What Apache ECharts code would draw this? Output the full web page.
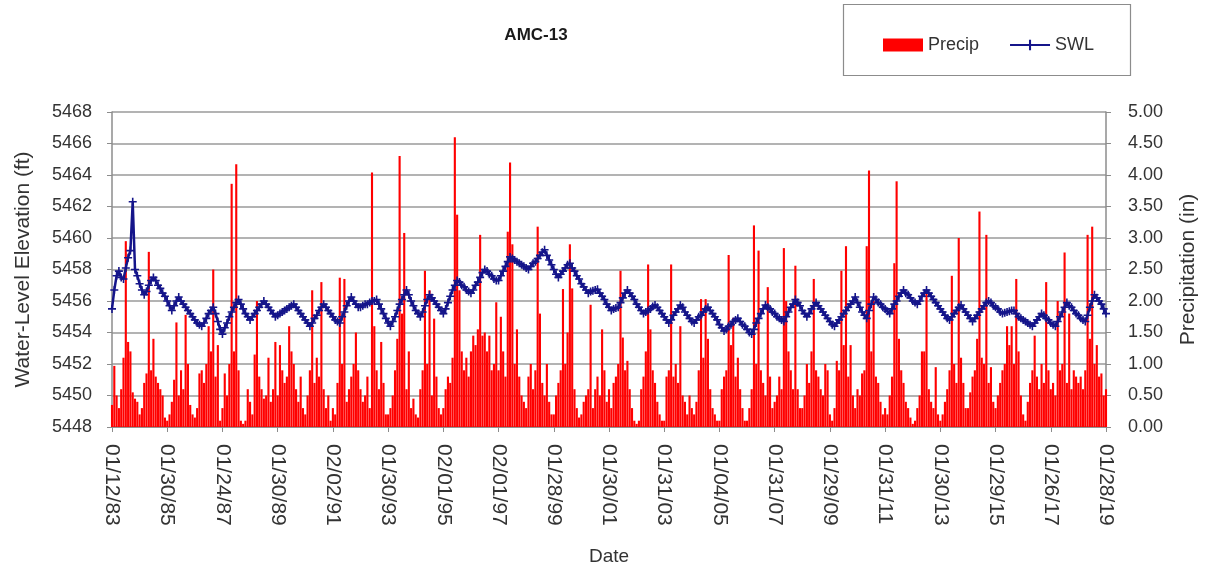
<!DOCTYPE html>
<html>
<head>
<meta charset="utf-8">
<script src="https://cdn.jsdelivr.net/npm/echarts@6/dist/echarts.min.js"></script>
<style>
html,body{margin:0;padding:0;background:#fff;}
#chart{width:1216px;height:571px;}
</style>
</head>
<body>
<div id="chart"></div>
<script>
// Tick labels shown on the date axis (every 24th monthly sample)
const tickLabels = ["01/12/83","01/30/85","01/24/87","01/30/89","02/02/91","01/30/93","02/01/95","02/01/97","01/28/99","01/30/01","01/31/03","01/04/05","01/31/07","01/29/09","01/31/11","01/30/13","01/29/15","01/26/17","01/28/19"];

// Monthly precipitation (in), one row per year 1983..2018, then Jan 2019
const precip = [
  0.35,0.97,0.5,0.3,0.6,1.1,2.95,1.35,1.2,0.55,0.45,0.4,
  0.2,0.3,0.7,0.85,2.78,0.9,1.4,0.8,0.7,0.6,0.5,0.15,
  0.1,0.2,0.4,0.75,1.66,0.5,0.9,0.6,1.78,1.0,0.35,0.2,
  0.15,0.3,0.85,0.9,0.7,1.0,1.6,1.2,2.5,0.8,1.3,0.1,
  0.3,0.85,0.5,1.0,3.86,1.2,4.17,0.9,0.1,0.05,0.1,0.6,
  0.4,0.2,1.15,2.0,0.8,0.6,0.45,0.5,1.1,0.4,0.6,1.35,
  0.5,1.3,0.9,0.7,0.8,1.6,1.2,1.0,0.6,0.4,0.8,0.3,
  0.2,0.5,0.9,2.17,0.7,1.1,0.8,2.3,0.6,0.3,0.5,0.1,
  0.3,0.2,0.7,2.37,1.0,2.35,0.4,0.6,0.8,1.0,1.5,0.9,
  0.6,0.4,0.5,0.8,0.3,4.04,1.6,0.9,0.6,1.35,0.7,0.2,
  0.2,0.3,0.5,0.9,1.4,4.3,1.8,3.08,0.6,1.2,0.3,0.45,
  0.2,0.15,0.6,0.9,2.48,1.0,2.17,0.5,1.72,0.8,0.3,0.2,
  0.3,0.6,0.8,0.7,1.1,4.6,3.37,2.17,1.2,0.9,1.1,0.8,
  1.2,1.45,1.3,1.55,3.05,1.45,1.5,1.2,1.45,0.9,1.0,1.98,
  0.9,1.75,1.2,0.8,3.1,4.2,2.9,1.0,1.55,0.8,0.5,0.4,
  0.3,0.8,1.0,0.6,0.9,3.18,1.8,0.7,0.5,1.0,0.4,0.2,
  0.2,0.5,0.7,0.9,2.19,1.0,1.5,2.9,2.2,0.6,0.3,0.15,
  0.2,0.4,0.5,0.6,1.94,0.3,0.6,0.8,0.5,1.55,0.9,0.4,
  0.6,0.3,0.7,0.8,1.0,2.48,1.42,0.9,1.05,0.6,0.3,0.1,
  0.05,0.1,0.6,0.8,1.2,2.58,1.55,0.9,0.7,0.4,0.2,0.1,
  0.1,0.8,0.9,2.58,0.8,1.0,0.7,1.6,0.5,0.4,0.2,0.5,
  0.3,0.2,0.4,0.9,2.03,1.1,2.03,1.4,0.6,0.3,0.2,0.1,
  0.1,0.6,0.8,0.9,2.73,1.3,1.73,0.8,1.1,0.6,0.3,0.1,
  0.1,0.3,0.6,3.2,1.0,2.8,0.9,0.7,0.5,2.22,0.8,0.3,
  0.4,0.5,0.8,0.6,2.84,2.0,1.2,0.9,0.6,2.56,0.6,0.3,
  0.3,0.5,1.0,0.7,1.2,2.35,0.9,0.8,0.6,0.5,1.0,0.9,
  0.2,0.1,0.3,1.05,0.9,2.48,1.3,2.87,0.8,1.3,0.5,0.3,
  0.6,0.5,0.85,0.9,2.87,4.07,1.2,2.0,0.8,0.7,0.4,0.2,
  0.3,0.2,0.5,0.8,2.6,3.9,1.4,0.9,0.7,0.4,0.3,0.15,
  0.05,0.1,0.3,0.5,1.2,1.2,2.17,0.6,0.4,0.3,0.95,0.2,
  0.1,0.2,0.4,0.6,0.9,2.4,1.0,0.7,3.0,1.1,0.7,0.3,
  0.3,0.55,0.8,0.9,1.4,3.42,1.1,1.0,3.05,0.7,0.95,0.4,
  0.3,0.5,0.7,0.9,1.0,1.6,1.3,1.6,1.0,2.35,1.2,0.5,
  0.2,0.1,0.4,0.7,0.9,1.45,0.8,0.6,1.0,0.7,2.3,0.9,
  0.6,0.7,0.5,2.0,0.9,1.0,2.77,0.7,1.8,0.6,0.9,0.8,
  0.7,0.8,0.6,0.9,3.05,1.4,3.18,1.0,1.3,0.8,0.85,0.5,
  0.6
];

// Monthly static water level (ft), one row per year 1983..2018, then Jan 2019
const swl = [
  5455.5,5456.7,5457.6,5457.9,5457.5,5457.4,5458.1,5458.75,5459.2,5462.3,5458.0,5457.6,
  5457.1,5456.7,5456.4,5456.6,5457.0,5457.3,5457.5,5457.3,5457.0,5456.8,5456.5,5456.3,
  5456.0,5455.7,5455.4,5455.7,5456.0,5456.25,5456.0,5455.8,5455.6,5455.4,5455.2,5455.0,
  5454.8,5454.6,5454.5,5454.4,5454.6,5454.9,5455.2,5455.4,5455.6,5455.2,5454.7,5454.2,
  5453.9,5454.3,5454.6,5455.0,5455.3,5455.6,5455.9,5456.1,5455.8,5455.5,5455.2,5455.0,
  5454.8,5455.0,5455.2,5455.4,5455.6,5455.8,5456.0,5455.8,5455.6,5455.4,5455.2,5455.0,
  5455.1,5455.2,5455.3,5455.4,5455.5,5455.6,5455.7,5455.8,5455.6,5455.4,5455.2,5455.0,
  5454.8,5454.6,5454.4,5454.6,5454.9,5455.1,5455.4,5455.6,5455.8,5455.6,5455.4,5455.2,
  5455.0,5454.8,5454.7,5454.6,5455.0,5455.3,5455.7,5456.0,5456.25,5456.0,5455.8,5455.6,
  5455.6,5455.7,5455.8,5455.8,5455.9,5456.0,5456.0,5456.1,5455.8,5455.5,5455.2,5454.9,
  5454.6,5454.4,5454.7,5455.0,5455.4,5455.8,5456.1,5456.4,5456.7,5456.4,5456.0,5455.7,
  5455.4,5455.2,5455.0,5455.3,5455.7,5456.1,5456.4,5456.2,5456.0,5455.8,5455.6,5455.4,
  5455.2,5455.5,5455.9,5456.3,5456.7,5457.0,5457.3,5457.2,5457.0,5456.9,5456.7,5456.6,
  5456.5,5456.7,5457.0,5457.2,5457.5,5457.8,5458.0,5457.9,5457.7,5457.6,5457.4,5457.3,
  5457.3,5457.6,5457.9,5458.2,5458.5,5458.8,5458.7,5458.6,5458.5,5458.4,5458.3,5458.2,
  5458.1,5458.0,5458.2,5458.4,5458.5,5458.7,5458.9,5459.1,5459.25,5458.9,5458.6,5458.3,
  5458.0,5457.7,5457.5,5457.7,5457.9,5458.1,5458.3,5458.4,5458.1,5457.9,5457.6,5457.4,
  5457.1,5456.9,5456.7,5456.5,5456.6,5456.65,5456.7,5456.75,5456.5,5456.3,5456.1,5455.8,
  5455.6,5455.4,5455.5,5455.55,5455.6,5455.9,5456.2,5456.5,5456.7,5456.5,5456.3,5456.1,
  5455.8,5455.6,5455.4,5455.2,5455.3,5455.4,5455.5,5455.65,5455.75,5455.6,5455.4,5455.2,
  5455.0,5454.8,5454.6,5454.8,5455.1,5455.3,5455.5,5455.75,5455.6,5455.3,5455.1,5454.9,
  5454.7,5454.6,5454.8,5455.0,5455.1,5455.3,5455.5,5455.6,5455.4,5455.2,5455.0,5454.8,
  5454.5,5454.3,5454.1,5454.2,5454.4,5454.5,5454.7,5454.8,5454.9,5454.7,5454.5,5454.4,
  5454.2,5454.0,5453.9,5454.2,5454.6,5454.9,5455.2,5455.5,5455.75,5455.6,5455.5,5455.3,
  5455.2,5455.0,5454.9,5454.8,5454.7,5455.0,5455.3,5455.6,5455.8,5456.1,5455.9,5455.7,
  5455.4,5455.2,5455.0,5455.2,5455.5,5455.7,5455.9,5455.7,5455.5,5455.3,5455.1,5454.9,
  5454.7,5454.5,5454.4,5454.6,5454.8,5455.0,5455.2,5455.4,5455.6,5455.8,5456.0,5456.25,
  5455.9,5455.6,5455.3,5455.1,5454.9,5455.4,5455.8,5456.25,5456.1,5455.9,5455.8,5455.6,
  5455.5,5455.35,5455.2,5455.5,5455.8,5456.0,5456.3,5456.5,5456.7,5456.5,5456.4,5456.2,
  5456.0,5455.9,5455.8,5456.0,5456.3,5456.5,5456.7,5456.5,5456.3,5456.1,5455.9,5455.7,
  5455.5,5455.3,5455.1,5454.9,5454.8,5455.0,5455.2,5455.4,5455.6,5455.75,5455.5,5455.3,
  5455.1,5454.9,5454.7,5454.9,5455.1,5455.3,5455.5,5455.7,5455.9,5456.0,5455.9,5455.7,
  5455.6,5455.5,5455.3,5455.2,5455.25,5455.3,5455.35,5455.4,5455.4,5455.2,5455.0,5454.9,
  5454.8,5454.7,5454.6,5454.5,5454.4,5454.6,5454.8,5455.0,5455.2,5455.1,5454.9,5454.8,
  5454.6,5454.5,5454.4,5454.7,5455.0,5455.3,5455.6,5455.9,5455.7,5455.6,5455.4,5455.2,
  5455.1,5454.9,5454.8,5454.7,5455.1,5455.6,5456.0,5456.4,5456.2,5456.0,5455.8,5455.5,
  5455.2
];

// Category labels: the shown tick dates, other monthly samples labelled mid-month
function pad(n){ return (n < 10 ? '0' : '') + n; }
const dates = [];
for (let i = 0; i < precip.length; i++) {
  if (i % 24 === 0) dates.push(tickLabels[i / 24]);
  else dates.push(pad(i % 12 + 1) + '/15/' + pad((1983 + Math.floor(i / 12)) % 100));
}

const FONT = 'Liberation Sans, Arial, sans-serif';
const plus = 'path://M4,0H6V4H10V6H6V10H4V6H0V4H4Z';
const chart = echarts.init(document.getElementById('chart'), null, {renderer: 'canvas'});
chart.setOption({
  backgroundColor: '#ffffff',
  animation: false,
  title: {
    text: 'AMC-13', left: 531, top: 22, textAlign: 'center',
    textStyle: {fontFamily: FONT, fontSize: 17, fontWeight: 'bold', color: '#1a1a1a'}
  },
  graphic: [{
    type: 'rect', shape: {x: 843.5, y: 4.5, width: 287, height: 71},
    style: {fill: '#fff', stroke: '#8c8c8c', lineWidth: 1.2}, z: -1
  }],
  legend: {
    left: 878, top: 31, itemWidth: 40, itemHeight: 13, itemGap: 30,
    textStyle: {fontFamily: FONT, fontSize: 18, color: '#333'},
    data: [{name: 'Precip', icon: 'rect'}, {name: 'SWL'}]
  },
  grid: {left: 112, right: 110, top: 112, bottom: 139, containLabel: false},
  xAxis: {
    type: 'category', data: dates, boundaryGap: false,
    name: 'Date', nameLocation: 'middle', nameGap: 120,
    nameTextStyle: {fontFamily: FONT, fontSize: 19, color: '#333'},
    axisLine: {lineStyle: {color: '#8c8c8c', width: 1.5}},
    axisTick: {show: true, interval: 23, length: 5, lineStyle: {color: '#8c8c8c'}},
    axisLabel: {interval: 23, rotate: -90, fontFamily: FONT, fontSize: 21, color: '#333', margin: 17},
    splitLine: {show: false}
  },
  yAxis: [{
    type: 'value', min: 5448, max: 5468, interval: 2, position: 'left',
    name: 'Water-Level Elevation (ft)', nameLocation: 'middle', nameGap: 78, nameRotate: 90,
    nameTextStyle: {fontFamily: FONT, fontSize: 21, color: '#333'},
    axisLine: {show: true, lineStyle: {color: '#8c8c8c', width: 1.5}},
    axisTick: {show: true, length: 5, lineStyle: {color: '#8c8c8c'}},
    axisLabel: {fontFamily: FONT, fontSize: 18, color: '#333', margin: 20,
      formatter: v => String(v)},
    splitLine: {show: true, lineStyle: {color: '#9a9a9a', width: 1.5}}
  }, {
    type: 'value', min: 0, max: 5, interval: 0.5, position: 'right',
    name: 'Precipitation (in)', nameLocation: 'middle', nameGap: 72, nameRotate: 90,
    nameTextStyle: {fontFamily: FONT, fontSize: 21, color: '#333'},
    axisLine: {show: true, lineStyle: {color: '#8c8c8c', width: 1.5}},
    axisTick: {show: true, length: 5, lineStyle: {color: '#8c8c8c'}},
    axisLabel: {fontFamily: FONT, fontSize: 18, color: '#333', margin: 22,
      formatter: v => v.toFixed(2)},
    splitLine: {show: false}
  }],
  series: [{
    name: 'Precip', type: 'bar', yAxisIndex: 1, data: precip,
    barWidth: '92%', itemStyle: {color: '#ff0000'}, z: 2
  }, {
    name: 'SWL', type: 'line', yAxisIndex: 0, data: swl,
    showAllSymbol: true, symbol: plus, symbolSize: 8,
    lineStyle: {color: '#15158a', width: 2.5},
    itemStyle: {color: '#15158a'}, z: 3
  }]
});
</script>
</body>
</html>
